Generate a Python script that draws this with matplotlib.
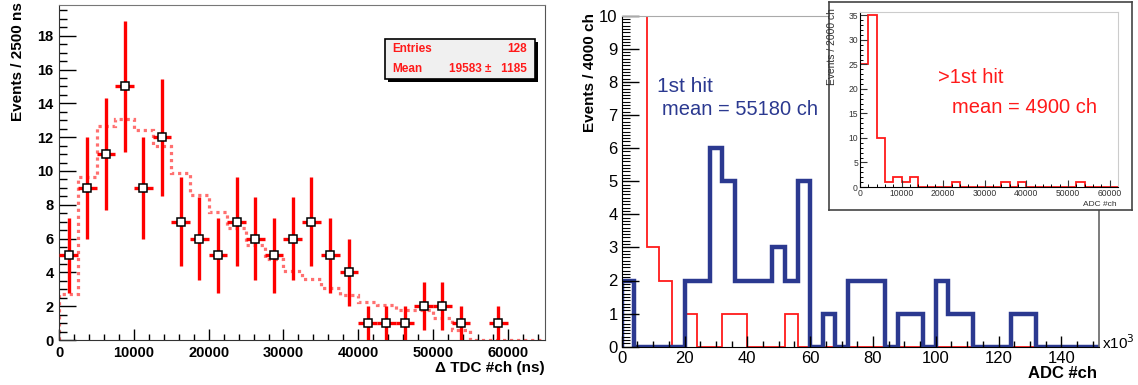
import numpy as np
import matplotlib
matplotlib.use("Agg")
import matplotlib.pyplot as plt
from matplotlib.patches import Rectangle
from matplotlib.ticker import MultipleLocator

plt.rcParams["font.family"] = ["Liberation Sans", "DejaVu Sans"]

W, H = 1138, 385

# ---- left panel: delta TDC, 2500 ns bins ----
tdc_edges = np.arange(0, 62500 + 1, 2500)
tdc_counts = [5, 9, 11, 15, 9, 12, 7, 6, 5, 7, 6, 5, 6, 7, 5, 4, 1, 1, 1, 2, 2, 1, 0, 1, 0]
sim_edges = np.arange(0, 65000 + 1, 2500)
sim_counts = [2.7, 9.65, 12.65, 13.05, 12.45, 11.45, 9.9, 8.6, 7.6, 6.6, 5.6, 4.8, 4.1,
              3.6, 3.1, 2.65, 2.27, 2.07, 1.8, 1.75, 1.3, 0.6, 0, 0, 0, 0]
stats_entries = "128"
stats_mean = "19583 \u00b1   1185"

# ---- right panel: ADC, 4000 ch bins (x10^3) ----
adc_edges = np.arange(0, 152 + 1, 4)
first_hit = [2, 0, 0, 0, 0, 2, 2, 6, 5, 2, 2, 2, 3, 2, 5, 0, 1, 0, 2, 2, 2, 0, 1, 1, 0,
             2, 1, 1, 0, 0, 0, 1, 1, 0, 0, 0, 0, 0]
later_hit = [60, 11, 3, 2, 0, 1, 0, 0, 1, 1, 0, 0, 0, 1, 0, 0, 0, 0, 0, 0, 0, 0, 0, 0, 0,
             0, 0, 0, 0, 0, 0, 0, 0, 0, 0, 0, 0, 0]

# ---- inset: later hits, 2000 ch bins ----
inset_edges = np.arange(0, 62000 + 1, 2000)
inset_counts = [25, 35, 10, 1, 2, 1, 2, 0, 0, 0, 0, 1, 0, 0, 0, 0, 0, 1, 0, 1, 0, 0, 0,
                0, 0, 0, 1, 0, 0, 0, 0]

RED = "#ff1a1a"
BLUE = "#2b3990"


def fbox(x0, y0, x1, y1):
    return [x0 / W, 1 - y1 / H, (x1 - x0) / W, (y1 - y0) / H]


fig = plt.figure(figsize=(W / 100, H / 100), dpi=100)

# ================= left =================
ax = fig.add_axes(fbox(59.3, 4.7, 545, 340))
ax.stairs(sim_counts, sim_edges, color="#ff7070", lw=2.3, ls=(0, (1, 1.2)))
counts = np.array(tdc_counts, dtype=float)
centers = 0.5 * (tdc_edges[:-1] + tdc_edges[1:])
m = counts > 0
ax.errorbar(centers[m], counts[m], yerr=np.sqrt(counts[m]), xerr=1250, fmt="s",
            ms=6, mfc="white", mec="black", mew=1.1, ecolor="red",
            elinewidth=2.4, capsize=0, zorder=3)
ax.set_xlim(0, 65000)
ax.set_ylim(0, 19.84)
ax.xaxis.set_major_locator(MultipleLocator(10000))
ax.xaxis.set_minor_locator(MultipleLocator(2000))
ax.yaxis.set_major_locator(MultipleLocator(2))
ax.yaxis.set_minor_locator(MultipleLocator(0.5))
ax.tick_params(axis="x", which="major", direction="in", length=8, width=1, pad=4)
ax.tick_params(axis="x", which="minor", direction="in", length=4, width=1)
ax.tick_params(axis="y", which="major", direction="in", length=12, width=1, pad=4)
ax.tick_params(axis="y", which="minor", direction="in", length=6, width=1)
for lab in ax.get_xticklabels() + ax.get_yticklabels():
    lab.set_fontweight("bold")
    lab.set_fontsize(10.5)
for s in ax.spines.values():
    s.set_color("#333333")
ax.spines["top"].set_color("#777777")
ax.spines["right"].set_color("#555555")
fig.text(18 / W, 1 - 62 / H, "Events / 2500 ns", rotation=90, ha="center", va="center",
         fontsize=11, fontweight="bold")
fig.text(545 / W, 1 - 368 / H, "\u0394 TDC #ch (ns)", ha="right", va="center",
         fontsize=11, fontweight="bold")

# stats box
fig.patches.append(Rectangle((388 / W, 1 - 82 / H), 150 / W, 40 / H, transform=fig.transFigure,
                             facecolor="black", edgecolor="none", zorder=5))
fig.patches.append(Rectangle((385 / W, 1 - 79 / H), 150 / W, 40 / H, transform=fig.transFigure,
                             facecolor="#f0f0f0", edgecolor="black", lw=1.2, zorder=6))
for yy, k, v in [(49, "Entries", stats_entries), (69, "Mean", stats_mean)]:
    fig.text(392 / W, 1 - yy / H, k, ha="left", va="center", color=RED,
             fontsize=8.5, fontweight="bold", zorder=7)
    fig.text(527 / W, 1 - yy / H, v, ha="right", va="center", color=RED,
             fontsize=8.5, fontweight="bold", zorder=7)

# ================= right =================
ax2 = fig.add_axes(fbox(621.7, 15.7, 1099, 346.7))
ax2.stairs(np.minimum(later_hit, 10), adc_edges, color=RED, lw=1.3)
ax2.stairs(first_hit, adc_edges, color=BLUE, lw=3.2)
ax2.set_xlim(0, 152)
ax2.set_ylim(0, 10)
ax2.xaxis.set_major_locator(MultipleLocator(20))
ax2.xaxis.set_minor_locator(MultipleLocator(5))
ax2.yaxis.set_major_locator(MultipleLocator(1))
ax2.yaxis.set_minor_locator(MultipleLocator(0.1))
ax2.tick_params(axis="x", which="major", direction="in", length=8, width=1, pad=3, labelsize=12)
ax2.tick_params(axis="x", which="minor", direction="in", length=4, width=1)
ax2.tick_params(axis="y", which="major", direction="in", length=12, width=1, pad=3, labelsize=12)
ax2.tick_params(axis="y", which="minor", direction="in", length=6, width=0.8)
ax2.spines["top"].set_color("#aaaaaa")
ax2.spines["top"].set_linewidth(0.8)
ax2.spines["right"].set_color("#666666")
ax2.spines["right"].set_linewidth(1.2)
fig.text(590 / W, 1 - 72 / H, "Events / 4000 ch", rotation=90, ha="center", va="center",
         fontsize=11, fontweight="bold")
fig.text(1097 / W, 1 - 373 / H, "ADC #ch", ha="right", va="center",
         fontsize=12, fontweight="bold")
fig.text(1102 / W, 1 - 343 / H, r"x10$^{3}$", ha="left", va="center", fontsize=11)
fig.text(657 / W, 1 - 92 / H, "1st hit", ha="left", va="baseline", color=BLUE, fontsize=15)
fig.text(662 / W, 1 - 115 / H, "mean = 55180 ch", ha="left", va="baseline", color=BLUE,
         fontsize=14.5)

# ================= inset =================
pad = fig.add_axes(fbox(829, 2, 1132, 210))
pad.set_xticks([])
pad.set_yticks([])
pad.set_facecolor("white")
for s in pad.spines.values():
    s.set_color("#444444")
    s.set_linewidth(1.2)

ax3 = fig.add_axes(fbox(860, 12, 1118, 187))
ax3.stairs(inset_counts, inset_edges, color=RED, lw=1.3)
ax3.set_xlim(0, 62000)
ax3.set_ylim(0, 35.7)
ax3.xaxis.set_major_locator(MultipleLocator(10000))
ax3.xaxis.set_minor_locator(MultipleLocator(2000))
ax3.yaxis.set_major_locator(MultipleLocator(5))
ax3.yaxis.set_minor_locator(MultipleLocator(1))
ax3.tick_params(axis="both", which="major", direction="in", length=5, width=0.8, pad=1.5,
                labelsize=6.2, colors="#333333")
ax3.tick_params(axis="both", which="minor", direction="in", length=2.5, width=0.7)
ax3.spines["top"].set_color("#cccccc")
ax3.spines["right"].set_color("#cccccc")
ax3.set_ylabel("Events / 2000 ch", fontsize=7.4, color="#333333")
ax3.yaxis.set_label_coords(-0.09, 0.8)
fig.text(1117 / W, 1 - 205 / H, "ADC #ch", ha="right", va="center", fontsize=6, color="#333333")
fig.text(938 / W, 1 - 83 / H, ">1st hit", ha="left", va="baseline", color=RED, fontsize=14.5)
fig.text(952 / W, 1 - 113 / H, "mean = 4900 ch", ha="left", va="baseline", color=RED,
         fontsize=14.5)

fig.savefig("out.png", dpi=100)
